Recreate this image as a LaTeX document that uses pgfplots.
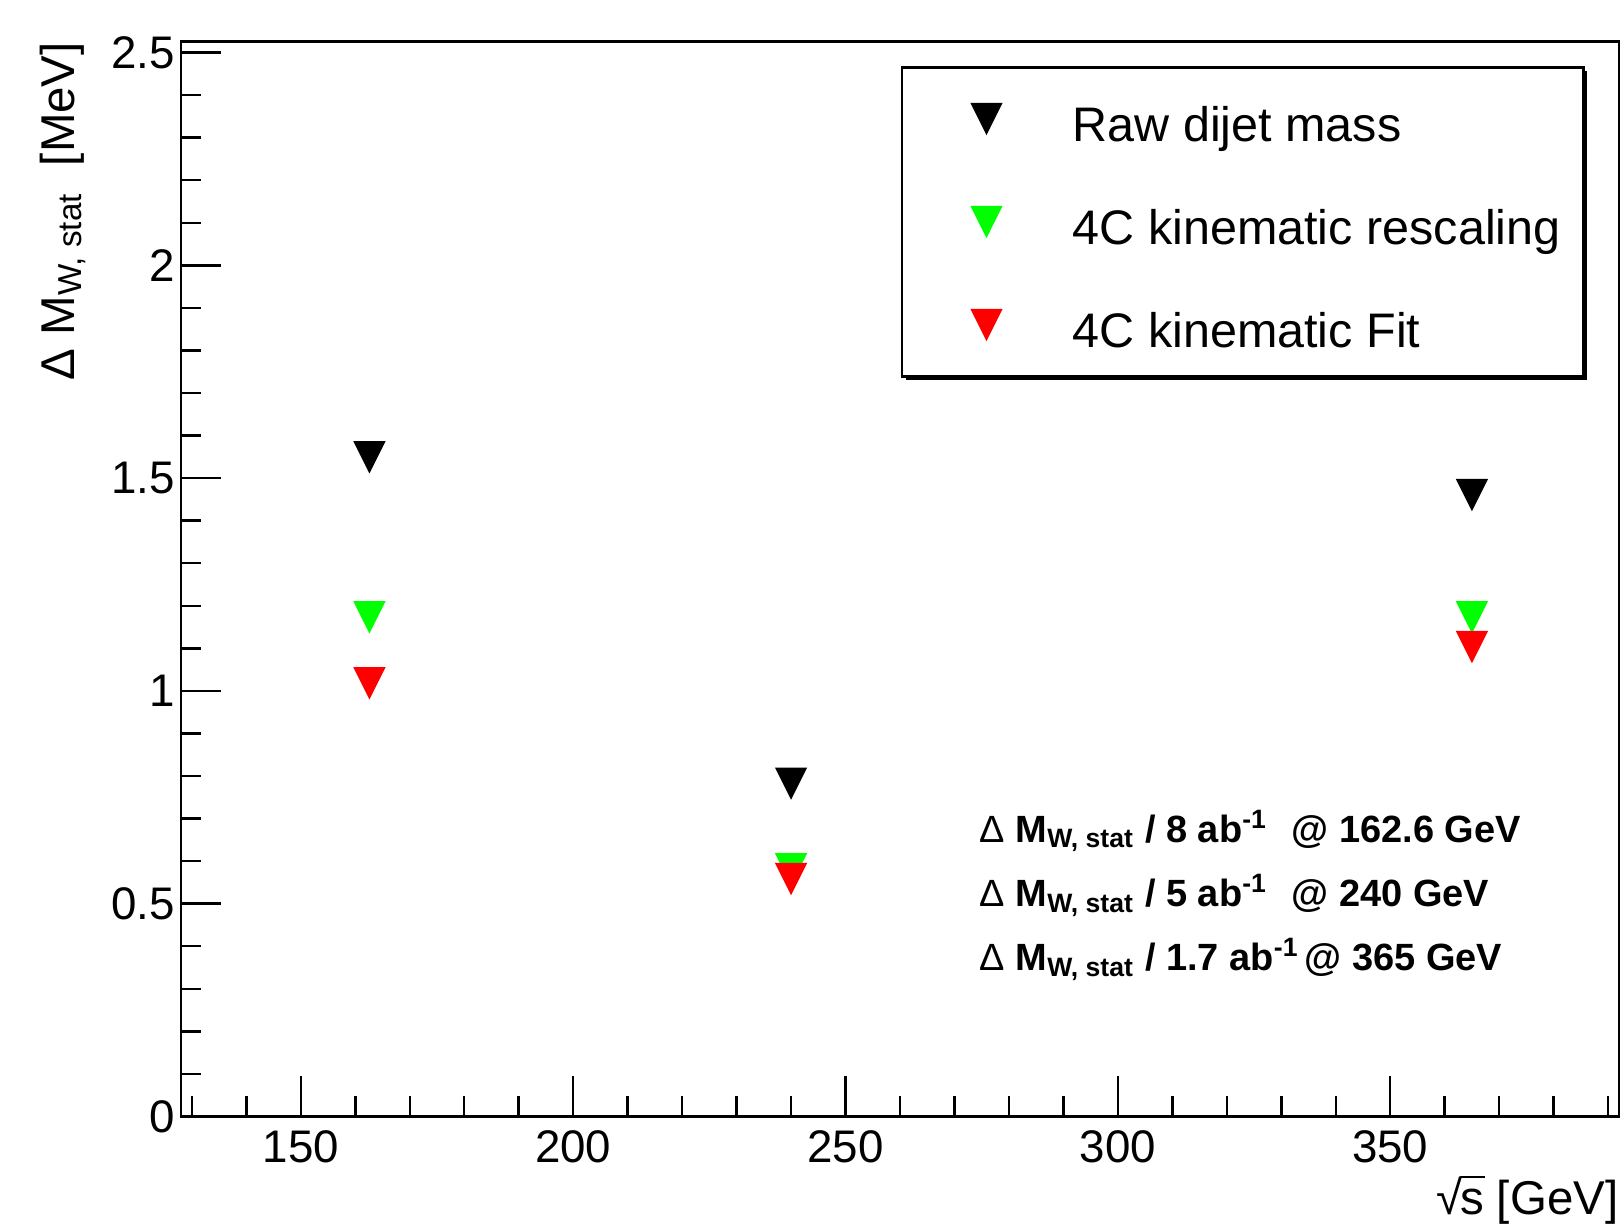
\documentclass[border=0pt]{standalone}
\usepackage{pgfplots}
\pgfplotsset{compat=1.18}
\usepackage{fontspec}
\setmainfont{Liberation Sans}
\usetikzlibrary{shadows}

\pgfdeclareplotmark{rootdown}{%
  \pgfpathmoveto{\pgfqpoint{0pt}{-\pgfplotmarksize}}%
  \pgfpathlineto{\pgfqpoint{\pgfplotmarksize}{\pgfplotmarksize}}%
  \pgfpathlineto{\pgfqpoint{-\pgfplotmarksize}{\pgfplotmarksize}}%
  \pgfpathclose
  \pgfusepathqfill
}

\pgfplotstableread{
x y
162.6 1.549
240.0 0.782
365.0 1.460
}\rawdata
\pgfplotstableread{
x y
162.6 1.173
240.0 0.581
365.0 1.173
}\rescaledata
\pgfplotstableread{
x y
162.6 1.018
240.0 0.558
365.0 1.103
}\fitdata

\begin{document}
\begin{tikzpicture}
\useasboundingbox (-1.81cm,-1.075cm) rectangle (14.43cm,11.165cm);
\begin{axis}[
  scale only axis,
  width=14.38cm, height=10.75cm,
  xmin=128, xmax=392, ymin=0, ymax=2.526,
  axis line style={line width=0.7pt, black},
  tick pos=left,
  tick align=inside,
  major tick length=0.4cm,
  minor tick length=0.2cm,
  tick style={line width=0.7pt, black},
  xtick={150,200,250,300,350},
  minor xtick={130,140,...,390},
  ytick={0,0.5,1,1.5,2,2.5},
  minor ytick={0,0.1,...,2.5},
  /pgf/number format/assume math mode=true,
  tick label style={font=\fontsize{13}{13}\selectfont},
  yticklabel style={xshift=0.06cm},
  xticklabel style={inner sep=0pt, yshift=-0.13cm},
  xlabel={√\kern-0.06em\rlap{\rule[0.76em]{0.52em}{0.05em}}s [GeV]},
  xlabel style={at={(axis description cs:1,0)}, anchor=base east, yshift=-0.98cm, inner sep=0pt, font=\fontsize{13.5}{14}\selectfont},
  ylabel={Δ M\textsubscript{W, stat}\ \ [MeV]},
  ylabel style={at={(axis description cs:-0.082,1)}, anchor=east, inner sep=0pt, font=\fontsize{13.5}{14}\selectfont},
  legend cell align=left,
  legend style={
    at={(axis description cs:0.5007,0.977)}, anchor=north west,
    draw=black, line width=0.7pt, fill=white,
    inner xsep=0.23cm, inner ysep=0pt,
    general shadow={fill=black, shadow xshift=0.035cm, shadow yshift=-0.035cm},
    font=\fontsize{13.8}{14}\selectfont,
    nodes={inner sep=0pt, text height=0.74cm, text depth=0.29cm},
    row sep=0pt,
    /tikz/every odd column/.append style={column sep=0.65cm},
  },
  legend image code/.code={\path (-0.60cm,0cm) (0.2cm,0cm); \draw[#1, only marks] plot coordinates {(0cm,0cm)};},
]
\addplot[only marks, mark=rootdown, mark size=4.6pt, color=black] table[x=x,y=y] {\rawdata};
\addlegendentry{Raw dijet mass}
\addplot[only marks, mark=rootdown, mark size=4.6pt, color={rgb,255:red,0;green,255;blue,0}] table[x=x,y=y] {\rescaledata};
\addlegendentry{4C kinematic rescaling}
\addplot[only marks, mark=rootdown, mark size=4.6pt, color={rgb,255:red,255;green,0;blue,0}] table[x=x,y=y] {\fitdata};
\addlegendentry{4C kinematic Fit}

\node[anchor=base west, inner sep=0pt, font=\fontsize{10.8}{13}\selectfont\bfseries] at (rel axis cs:0.555,0.2553)
  {\makebox[3.12cm][l]{\textmd{Δ} M\textsubscript{W, stat} / 8 ab\textsuperscript{-1}}@ 162.6 GeV};
\node[anchor=base west, inner sep=0pt, font=\fontsize{10.8}{13}\selectfont\bfseries] at (rel axis cs:0.555,0.1954)
  {\makebox[3.12cm][l]{\textmd{Δ} M\textsubscript{W, stat} / 5 ab\textsuperscript{-1}}@ 240 GeV};
\node[anchor=base west, inner sep=0pt, font=\fontsize{10.8}{13}\selectfont\bfseries] at (rel axis cs:0.555,0.1357)
  {\makebox[3.25cm][l]{\textmd{Δ} M\textsubscript{W, stat} / 1.7 ab\textsuperscript{-1}}@ 365 GeV};
\end{axis}
\end{tikzpicture}
\end{document}
